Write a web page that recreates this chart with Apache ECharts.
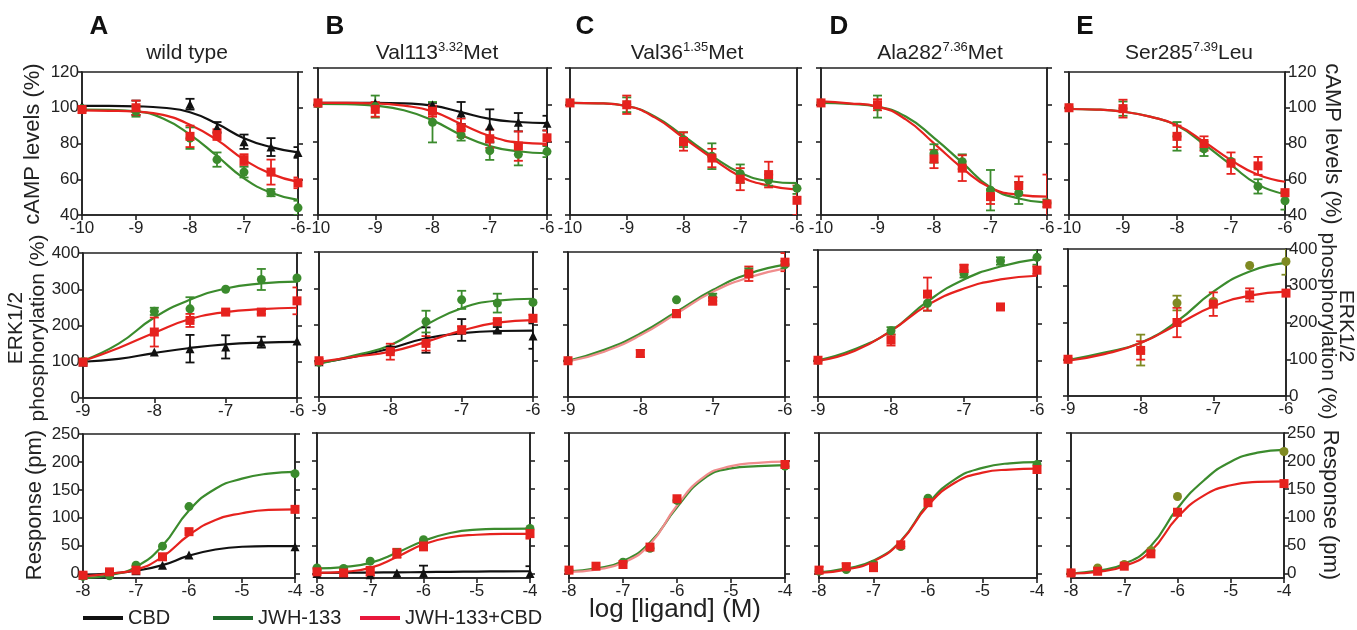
<!DOCTYPE html>
<html><head><meta charset="utf-8">
<script src="https://cdn.jsdelivr.net/npm/echarts@6/dist/echarts.min.js"></script>
<style>html,body{margin:0;padding:0;background:#fff}#c{width:1357px;height:630px}</style>
</head><body><div id="c"></div>
<script>
// ---------- x positions (log [ligand] M) ----------
const X_CAMP = [-10, -9, -8, -7.5, -7, -6.5, -6];
const X_CAMP_FIT = [-10, -9.5, -9, -8.5, -8, -7.5, -7, -6.5, -6];
const X_ERK = [-9, -8, -7.5, -7, -6.5, -6];
const X_ERK_FIT = [-9, -8.5, -8, -7.5, -7, -6.5, -6];
const X_RESP = [-8, -7.5, -7, -6.5, -6, -4];
const X_RESP_FIT = [-8, -7.5, -7, -6.5, -6, -5.5, -5, -4.5, -4];

// ---------- tick labels ----------
const TICKS_CAMP = [40, 60, 80, 100, 120];
const TICKS_ERK = [0, 100, 200, 300, 400];
const TICKS_RESP = [0, 50, 100, 150, 200, 250];

// ---------- legend / series names ----------
const SERIES_NAMES = ['CBD', 'JWH-133', 'JWH-133+CBD'];
const PANEL_LETTERS = ['A', 'B', 'C', 'D', 'E'];
const PANEL_TITLES = [['wild type', ''], ['Val113', '3.32', 'Met'], ['Val36', '1.35', 'Met'], ['Ala282', '7.36', 'Met'], ['Ser285', '7.39', 'Leu']];

// ---------- Row 1: cAMP levels (%) ----------
const CAMP_A_CBD = [101, 100, 102, 89, 81, 78, 75];
const CAMP_A_CBD_ERR = [0, 4, 3, 3, 4, 5, 3];
const CAMP_A_CBD_FIT = [101, 101, 100.8, 100, 97.5, 91, 83, 78, 75];
const CAMP_A_JWH = [99.5, 98, 83, 71, 64, 52.5, 44];
const CAMP_A_JWH_ERR = [0, 3, 6, 4, 3, 2, 4];
const CAMP_A_JWH_FIT = [99, 98.8, 98, 94, 85, 73, 60.5, 52.5, 48.5];
const CAMP_A_MIX = [99, 100, 84, 85, 71, 64, 58];
const CAMP_A_MIX_ERR = [1, 4, 6, 3, 3, 7, 3];
const CAMP_A_MIX_FIT = [98.5, 98.3, 97.8, 96, 90.5, 82, 71, 63, 58.5];

const CAMP_B_CBD = [101, 101, 100, 95.5, 88.5, 90.5, 90];
const CAMP_B_CBD_ERR = [0, 0, 1, 6, 9, 5, 4];
const CAMP_B_CBD_FIT = [101, 101, 101, 100.7, 99.5, 96, 92.3, 90.6, 90];
const CAMP_B_JWH = [100.5, 99, 90.5, 83.5, 75, 73, 74.5];
const CAMP_B_JWH_ERR = [0, 6, 11, 3, 5, 6, 3];
const CAMP_B_JWH_FIT = [100.5, 100.3, 99.5, 97, 91.5, 83.6, 77.5, 74.7, 73.6];
const CAMP_B_MIX = [101, 97.5, 96.5, 87.5, 81.5, 77.5, 82];
const CAMP_B_MIX_ERR = [0, 4, 3, 5, 5, 8, 4];
const CAMP_B_MIX_FIT = [101, 101, 100.8, 99.5, 96.4, 89.5, 83, 79.5, 78.7];

const CAMP_C_JWH = [101, 100, 81, 72, 62.5, 59, 54.5];
const CAMP_C_JWH_ERR = [0, 4, 4, 7, 5, 3, 3];
const CAMP_C_JWH_FIT = [101, 100.8, 99.3, 93.5, 83, 72.2, 63, 58.5, 57.3];
const CAMP_C_MIX = [101, 100, 80, 71, 59.5, 62, 48];
const CAMP_C_MIX_ERR = [0, 5, 5, 5, 6, 7, 8];
const CAMP_C_MIX_FIT = [101, 100.8, 99.3, 93, 82, 71, 61, 56, 53.8];

const CAMP_D_JWH = [101, 99, 73.5, 69, 53.5, 52, 46.5];
const CAMP_D_JWH_ERR = [0, 6, 5, 4, 11, 6, 2];
const CAMP_D_JWH_FIT = [101, 100.5, 99, 93.6, 82, 68.5, 55, 49, 46.7];
const CAMP_D_MIX = [101, 100, 70.5, 65.5, 50, 56, 46];
const CAMP_D_MIX_ERR = [0, 3, 5, 7, 4, 5, 16];
const CAMP_D_MIX_FIT = [101.8, 100.8, 99, 92, 79, 65.5, 54.8, 51, 50];

const CAMP_E_JWH = [100, 99.5, 84, 77, 70, 56, 48];
const CAMP_E_JWH_ERR = [0, 4, 8, 4, 0, 4, 5];
const CAMP_E_JWH_FIT = [99.3, 99, 97.8, 95, 90, 79.6, 68, 57, 51.7];
const CAMP_E_MIX = [100, 99.5, 84, 80, 69, 67.5, 52.5];
const CAMP_E_MIX_ERR = [0, 5, 6, 4, 6, 5, 0];
const CAMP_E_MIX_FIT = [99.3, 99, 97.8, 95, 90.3, 81, 70.7, 62.5, 58.6];

// ---------- Row 2: ERK1/2 phosphorylation (%) ----------
const ERK_A_CBD = [99, 127, 136, 141, 154, 157];
const ERK_A_CBD_ERR = [5, 0, 38, 32, 15, 0];
const ERK_A_CBD_FIT = [100, 108, 124, 138, 148, 153, 155];
const ERK_A_JWH = [100, 239, 246, 300, 327, 331];
const ERK_A_JWH_ERR = [5, 10, 32, 0, 29, 0];
const ERK_A_JWH_FIT = [103, 150, 222, 271, 302, 316, 321];
const ERK_A_MIX = [99, 182, 214, 237, 237, 268];
const ERK_A_MIX_ERR = [10, 40, 18, 5, 5, 37];
const ERK_A_MIX_FIT = [102, 138, 180, 218, 237, 245, 249];

const ERK_B_CBD = [97, 134, 157, 185, 185, 168];
const ERK_B_CBD_ERR = [0, 5, 35, 30, 8, 35];
const ERK_B_CBD_FIT = [94, 111, 134, 162, 176, 182, 183];
const ERK_B_JWH = [96, null, 208, 268, 259, 261];
const ERK_B_JWH_ERR = [0, 0, 30, 25, 26, 0];
const ERK_B_JWH_FIT = [92, 115, 143, 199, 245, 266, 271];
const ERK_B_MIX = [100, 125, 148, 185, 208, 217];
const ERK_B_MIX_ERR = [5, 22, 20, 10, 5, 10];
const ERK_B_MIX_FIT = [97, 111, 125, 152, 183, 205, 212];

const ERK_C_JWH = [100, null, 268, 275, 345, 365];
const ERK_C_JWH_ERR = [0, 0, 0, 10, 10, 10];
const ERK_C_JWH_FIT = [100, 130, 175, 235, 295, 340, 365];
const ERK_C_MIX = [100, 120, 230, 265, 340, 372];
const ERK_C_MIX_ERR = [0, 10, 10, 10, 20, 25];
const ERK_C_MIX_FIT = [98, 125, 170, 230, 290, 330, 355];

const ERK_D_JWH = [100, 180, 255, 335, 370, 380];
const ERK_D_JWH_ERR = [0, 10, 20, 10, 10, 20];
const ERK_D_JWH_FIT = [100, 130, 180, 260, 320, 355, 375];
const ERK_D_MIX = [100, 155, 280, 350, 245, 345];
const ERK_D_MIX_ERR = [0, 15, 45, 10, 0, 10];
const ERK_D_MIX_FIT = [98, 125, 180, 250, 295, 320, 330];

const ERK_E_JWH = [100, 125, 253, 257, 355, 366];
const ERK_E_JWH_ERR = [0, 42, 20, 0, 0, 36];
const ERK_E_JWH_FIT = [98, 118, 145, 203, 284, 339, 362];
const ERK_E_MIX = [100, 124, 200, 250, 275, 280];
const ERK_E_MIX_ERR = [3, 25, 40, 32, 18, 0];
const ERK_E_MIX_FIT = [96, 114, 144, 194, 244, 273, 284];

// ---------- Row 3: Response (pm) ----------
const RESP_A_CBD = [-3, 2, 5, 15, 33, 48];
const RESP_A_CBD_ERR = [0, 0, 0, 0, 0, 0];
const RESP_A_CBD_FIT = [-2, 0, 5, 15, 32, 43, 48, 49, 49];
const RESP_A_JWH = [-5, -4, 15, 49, 120, 179];
const RESP_A_JWH_ERR = [0, 0, 0, 0, 0, 0];
const RESP_A_JWH_FIT = [-8, -3, 12, 50, 113, 152, 170, 179, 182];
const RESP_A_MIX = [-3, 3, 6, 30, 75, 115];
const RESP_A_MIX_ERR = [3, 3, 0, 0, 0, 0];
const RESP_A_MIX_FIT = [-5, 0, 7, 30, 69, 96, 108, 114, 115];

const RESP_B_CBD = [0, 0, -2, 1, 1, 0];
const RESP_B_CBD_ERR = [0, 0, 0, 0, 13, 13];
const RESP_B_CBD_FIT = [1, 1.3, 1.7, 2, 2.5, 3, 3.5, 3.8, 4];
const RESP_B_JWH = [10, 9, 22, 37, 60, 80];
const RESP_B_JWH_ERR = [0, 0, 0, 0, 0, 0];
const RESP_B_JWH_FIT = [9, 11.4, 19, 37, 58, 72, 78, 79.5, 80];
const RESP_B_MIX = [3, 1, 4, 36, 49, 71];
const RESP_B_MIX_ERR = [3, 0, 8, 8, 8, 9];
const RESP_B_MIX_FIT = [1, 3, 10, 29.5, 52, 64.5, 69, 70.5, 70.5];

const RESP_C_JWH = [6, null, 20, 45, 130, 191];
const RESP_C_JWH_ERR = [0, 0, 0, 0, 0, 0];
const RESP_C_JWH_FIT = [4, 9, 22, 55, 118, 169, 187, 191, 193];
const RESP_C_MIX = [6, 13, 16, 47, 133, 194];
const RESP_C_MIX_ERR = [0, 0, 0, 0, 0, 0];
const RESP_C_MIX_FIT = [3, 7, 19, 52, 121, 172, 191, 197, 199];

const RESP_D_JWH = [4, 7, 16, 48, 134, 194];
const RESP_D_JWH_ERR = [0, 0, 0, 0, 0, 0];
const RESP_D_JWH_FIT = [2, 9, 23, 58, 124, 168, 188, 196, 198];
const RESP_D_MIX = [6, 12, 12, 51, 126, 185];
const RESP_D_MIX_ERR = [6, 6, 8, 0, 0, 0];
const RESP_D_MIX_FIT = [1, 7, 21.6, 57, 121, 162, 179.5, 185, 186.6];

const RESP_E_JWH = [1, 10, 16, 41, 137, 217];
const RESP_E_JWH_ERR = [0, 0, 0, 0, 0, 0];
const RESP_E_JWH_FIT = [0, 5, 17, 49, 116, 166, 199, 215, 220];
const RESP_E_MIX = [1, 4, 13, 35, 109, 160];
const RESP_E_MIX_ERR = [4, 0, 0, 0, 0, 0];
const RESP_E_MIX_FIT = [0, 3, 13, 40, 100, 139, 157, 163, 164];

// ---------- styling ----------
const FONT = '"Liberation Sans", Arial, sans-serif';
const INK = '#222';
const COL = { cbd: '#111111', jwh: '#3b8b2d', mix: '#e6221e' };
const SYM = { cbd: 'triangle', jwh: 'circle', mix: 'rect' };
const SYM_SIZE = { cbd: 9, jwh: 9, mix: 9 };
const NAME = { cbd: SERIES_NAMES[0], jwh: SERIES_NAMES[1], mix: SERIES_NAMES[2] };

const ROWS = [
  { x: X_CAMP, xf: X_CAMP_FIT, xmin: -10, xmax: -6, ymin: 40, ymax: 120, ticks: TICKS_CAMP },
  { x: X_ERK, xf: X_ERK_FIT, xmin: -9, xmax: -6, ymin: 0, ymax: 400, ticks: TICKS_ERK },
  { x: X_RESP, xf: X_RESP_FIT, xmin: -8, xmax: -4, ymin: -8, ymax: 250, ticks: TICKS_RESP }
];

const PANELS = [
  { row: 0, col: 0, rect: [82, 72, 216, 143], sets: { cbd: [CAMP_A_CBD, CAMP_A_CBD_ERR, CAMP_A_CBD_FIT], jwh: [CAMP_A_JWH, CAMP_A_JWH_ERR, CAMP_A_JWH_FIT], mix: [CAMP_A_MIX, CAMP_A_MIX_ERR, CAMP_A_MIX_FIT] } },
  { row: 0, col: 1, rect: [318, 68, 229, 147], sets: { cbd: [CAMP_B_CBD, CAMP_B_CBD_ERR, CAMP_B_CBD_FIT], jwh: [CAMP_B_JWH, CAMP_B_JWH_ERR, CAMP_B_JWH_FIT], mix: [CAMP_B_MIX, CAMP_B_MIX_ERR, CAMP_B_MIX_FIT] } },
  { row: 0, col: 2, rect: [570, 68, 227, 147], sets: { jwh: [CAMP_C_JWH, CAMP_C_JWH_ERR, CAMP_C_JWH_FIT], mix: [CAMP_C_MIX, CAMP_C_MIX_ERR, CAMP_C_MIX_FIT] } },
  { row: 0, col: 3, rect: [821, 68, 226, 147], sets: { jwh: [CAMP_D_JWH, CAMP_D_JWH_ERR, CAMP_D_JWH_FIT], mix: [CAMP_D_MIX, CAMP_D_MIX_ERR, CAMP_D_MIX_FIT] } },
  { row: 0, col: 4, rect: [1069, 72, 216, 143], sets: { jwh: [CAMP_E_JWH, CAMP_E_JWH_ERR, CAMP_E_JWH_FIT], mix: [CAMP_E_MIX, CAMP_E_MIX_ERR, CAMP_E_MIX_FIT] } },

  { row: 1, col: 0, rect: [83, 253, 214, 145], sets: { cbd: [ERK_A_CBD, ERK_A_CBD_ERR, ERK_A_CBD_FIT], jwh: [ERK_A_JWH, ERK_A_JWH_ERR, ERK_A_JWH_FIT], mix: [ERK_A_MIX, ERK_A_MIX_ERR, ERK_A_MIX_FIT] } },
  { row: 1, col: 1, rect: [319, 252, 214, 145], sets: { cbd: [ERK_B_CBD, ERK_B_CBD_ERR, ERK_B_CBD_FIT], jwh: [ERK_B_JWH, ERK_B_JWH_ERR, ERK_B_JWH_FIT], mix: [ERK_B_MIX, ERK_B_MIX_ERR, ERK_B_MIX_FIT] } },
  { row: 1, col: 2, rect: [568, 252, 217, 145], fitColor: { mix: '#f08c8c' }, sets: { jwh: [ERK_C_JWH, ERK_C_JWH_ERR, ERK_C_JWH_FIT], mix: [ERK_C_MIX, ERK_C_MIX_ERR, ERK_C_MIX_FIT] } },
  { row: 1, col: 3, rect: [818, 250, 219, 147], sets: { jwh: [ERK_D_JWH, ERK_D_JWH_ERR, ERK_D_JWH_FIT], mix: [ERK_D_MIX, ERK_D_MIX_ERR, ERK_D_MIX_FIT] } },
  { row: 1, col: 4, rect: [1068, 249, 218, 147], pointColor: { jwh: '#7f8a22' }, sets: { jwh: [ERK_E_JWH, ERK_E_JWH_ERR, ERK_E_JWH_FIT], mix: [ERK_E_MIX, ERK_E_MIX_ERR, ERK_E_MIX_FIT] } },

  { row: 2, col: 0, rect: [83, 434, 212, 144], sets: { cbd: [RESP_A_CBD, RESP_A_CBD_ERR, RESP_A_CBD_FIT], jwh: [RESP_A_JWH, RESP_A_JWH_ERR, RESP_A_JWH_FIT], mix: [RESP_A_MIX, RESP_A_MIX_ERR, RESP_A_MIX_FIT] } },
  { row: 2, col: 1, rect: [317, 433, 213, 145], sets: { cbd: [RESP_B_CBD, RESP_B_CBD_ERR, RESP_B_CBD_FIT], jwh: [RESP_B_JWH, RESP_B_JWH_ERR, RESP_B_JWH_FIT], mix: [RESP_B_MIX, RESP_B_MIX_ERR, RESP_B_MIX_FIT] } },
  { row: 2, col: 2, rect: [569, 433, 216, 145], fitColor: { mix: '#f08c8c' }, sets: { jwh: [RESP_C_JWH, RESP_C_JWH_ERR, RESP_C_JWH_FIT], mix: [RESP_C_MIX, RESP_C_MIX_ERR, RESP_C_MIX_FIT] } },
  { row: 2, col: 3, rect: [819, 433, 218, 145], sets: { jwh: [RESP_D_JWH, RESP_D_JWH_ERR, RESP_D_JWH_FIT], mix: [RESP_D_MIX, RESP_D_MIX_ERR, RESP_D_MIX_FIT] } },
  { row: 2, col: 4, rect: [1071, 433, 213, 145], pointColor: { jwh: '#7f8a22' }, sets: { jwh: [RESP_E_JWH, RESP_E_JWH_ERR, RESP_E_JWH_FIT], mix: [RESP_E_MIX, RESP_E_MIX_ERR, RESP_E_MIX_FIT] } }
];

const grids = [], xAxes = [], yAxes = [], series = [];
const axisLineStyle = { color: INK, width: 1.6 };
const labelStyle = { fontSize: 17, color: INK, fontFamily: FONT };

PANELS.forEach((p, gi) => {
  const R = ROWS[p.row];
  grids.push({ left: p.rect[0], top: p.rect[1], width: p.rect[2], height: p.rect[3], show: true, borderColor: INK, borderWidth: 1.6, containLabel: false, outerBoundsMode: 'none' });
  xAxes.push({ gridIndex: gi, type: 'value', min: R.xmin, max: R.xmax, interval: 1,
    axisLine: { onZero: false, lineStyle: axisLineStyle }, axisTick: { length: 5, lineStyle: axisLineStyle },
    axisLabel: Object.assign({ margin: 5, showMinLabel: true, showMaxLabel: true }, labelStyle), splitLine: { show: false } });
  const yBase = (pos, showLab) => ({ gridIndex: gi, type: 'value', position: pos, min: R.ymin, max: R.ymax,
    axisLine: { show: true, onZero: false, lineStyle: axisLineStyle },
    axisTick: { show: true, length: 5, lineStyle: axisLineStyle, customValues: R.ticks },
    axisLabel: Object.assign({ show: showLab, margin: 3, customValues: R.ticks }, labelStyle),
    splitLine: { show: false } });
  const yl = yAxes.length;
  yAxes.push(yBase('left', p.col === 0));
  yAxes.push(yBase('right', p.col === 4));

  const order = ['cbd', 'jwh', 'mix'];
  order.forEach(k => {
    const s = p.sets[k];
    if (!s) return;
    const [mean, err, fit] = s;
    const fitCol = (p.fitColor && p.fitColor[k]) || COL[k];
    const ptCol = (p.pointColor && p.pointColor[k]) || COL[k];
    series.push({ name: NAME[k], type: 'line', xAxisIndex: gi, yAxisIndex: yl, data: R.xf.map((x, i) => [x, fit[i]]),
      smooth: 0.5, showSymbol: false, symbol: 'none', lineStyle: { color: fitCol, width: 2.2 }, itemStyle: { color: fitCol }, z: 2, silent: true, clip: true });
    const pts = [], ebs = [];
    R.x.forEach((x, i) => {
      if (mean[i] === null) return;
      pts.push([x, mean[i]]);
      if (err[i] > 0) ebs.push([x, mean[i], err[i]]);
    });
    series.push({ name: NAME[k] + ' error', type: 'custom', xAxisIndex: gi, yAxisIndex: yl, data: ebs, z: 3, silent: true, clip: true,
      renderItem: (params, api) => {
        const x = api.value(0), y = api.value(1), e = api.value(2);
        const a = api.coord([x, y + e]), b = api.coord([x, y - e]);
        const c = 4.5, st = { stroke: ptCol, lineWidth: 1.8 };
        return { type: 'group', children: [
          { type: 'line', shape: { x1: a[0], y1: a[1], x2: b[0], y2: b[1] }, style: st },
          { type: 'line', shape: { x1: a[0] - c, y1: a[1], x2: a[0] + c, y2: a[1] }, style: st },
          { type: 'line', shape: { x1: b[0] - c, y1: b[1], x2: b[0] + c, y2: b[1] }, style: st }
        ] };
      } });
    series.push({ name: NAME[k] + ' data', type: 'scatter', xAxisIndex: gi, yAxisIndex: yl, data: pts,
      symbol: SYM[k], symbolSize: SYM_SIZE[k], itemStyle: { color: ptCol, opacity: 1 }, z: 4, silent: true });
  });
});

// ---------- text ----------
const graphic = [];
const txt = (x, y, text, size, extra) => graphic.push(Object.assign({ type: 'text', x: x, y: y, silent: true,
  style: Object.assign({ text: text, fontSize: size, fontFamily: FONT, fill: INK, align: 'center', verticalAlign: 'middle' }, (extra && extra.style) || {}) },
  extra && extra.rotation !== undefined ? { rotation: extra.rotation } : {}));

const letterX = [99, 335, 585, 839, 1085];
PANEL_LETTERS.forEach((L, i) => txt(letterX[i], 27, L, 26, { style: { fontWeight: 'bold', fill: '#111' } }));
const titleX = [187, 437, 687, 940, 1189];
PANEL_TITLES.forEach((t, i) => {
  const text = t.length === 3 ? t[0] + '{s|' + t[1] + '}' + t[2] : t[0];
  txt(titleX[i], 53, text, 21, { style: { lineHeight: 24, rich: { s: { fontSize: 13, fontFamily: FONT, fill: INK, verticalAlign: 'top', lineHeight: 14 } } } });
});
// left axis names
txt(33, 144, 'cAMP levels (%)', 22, { rotation: Math.PI / 2 });
txt(27, 328, 'ERK1/2\nphosphorylation (%)', 21, { rotation: Math.PI / 2, style: { lineHeight: 22 } });
txt(35, 505, 'Response (pm)', 22, { rotation: Math.PI / 2 });
// right axis names
txt(1332, 144, 'cAMP levels (%)', 22, { rotation: -Math.PI / 2 });
txt(1337, 326, 'ERK1/2\nphosphorylation (%)', 21, { rotation: -Math.PI / 2, style: { lineHeight: 18 } });
txt(1330, 505, 'Response (pm)', 22, { rotation: -Math.PI / 2 });
// common x-axis name
txt(675, 610, 'log [ligand] (M)', 26);

const legendColors = ['#111111', '#1f6b2b', '#e8173c'];
const legendLeft = [83, 213, 360];
const legends = SERIES_NAMES.map((n, i) => ({
  left: legendLeft[i], top: 608, padding: 0, icon: 'rect', itemWidth: 40, itemHeight: 4, itemGap: 5, selectedMode: false,
  textStyle: { fontSize: 20, color: INK, fontFamily: FONT },
  data: [{ name: n, itemStyle: { color: legendColors[i] }, lineStyle: { color: legendColors[i], width: 4 } }]
}));

const chart = echarts.init(document.getElementById('c'), null, { renderer: 'canvas' });
chart.setOption({
  animation: false,
  backgroundColor: '#ffffff',
  textStyle: { fontFamily: FONT },
  grid: grids, xAxis: xAxes, yAxis: yAxes, series: series,
  legend: legends, graphic: graphic
});
</script></body></html>
